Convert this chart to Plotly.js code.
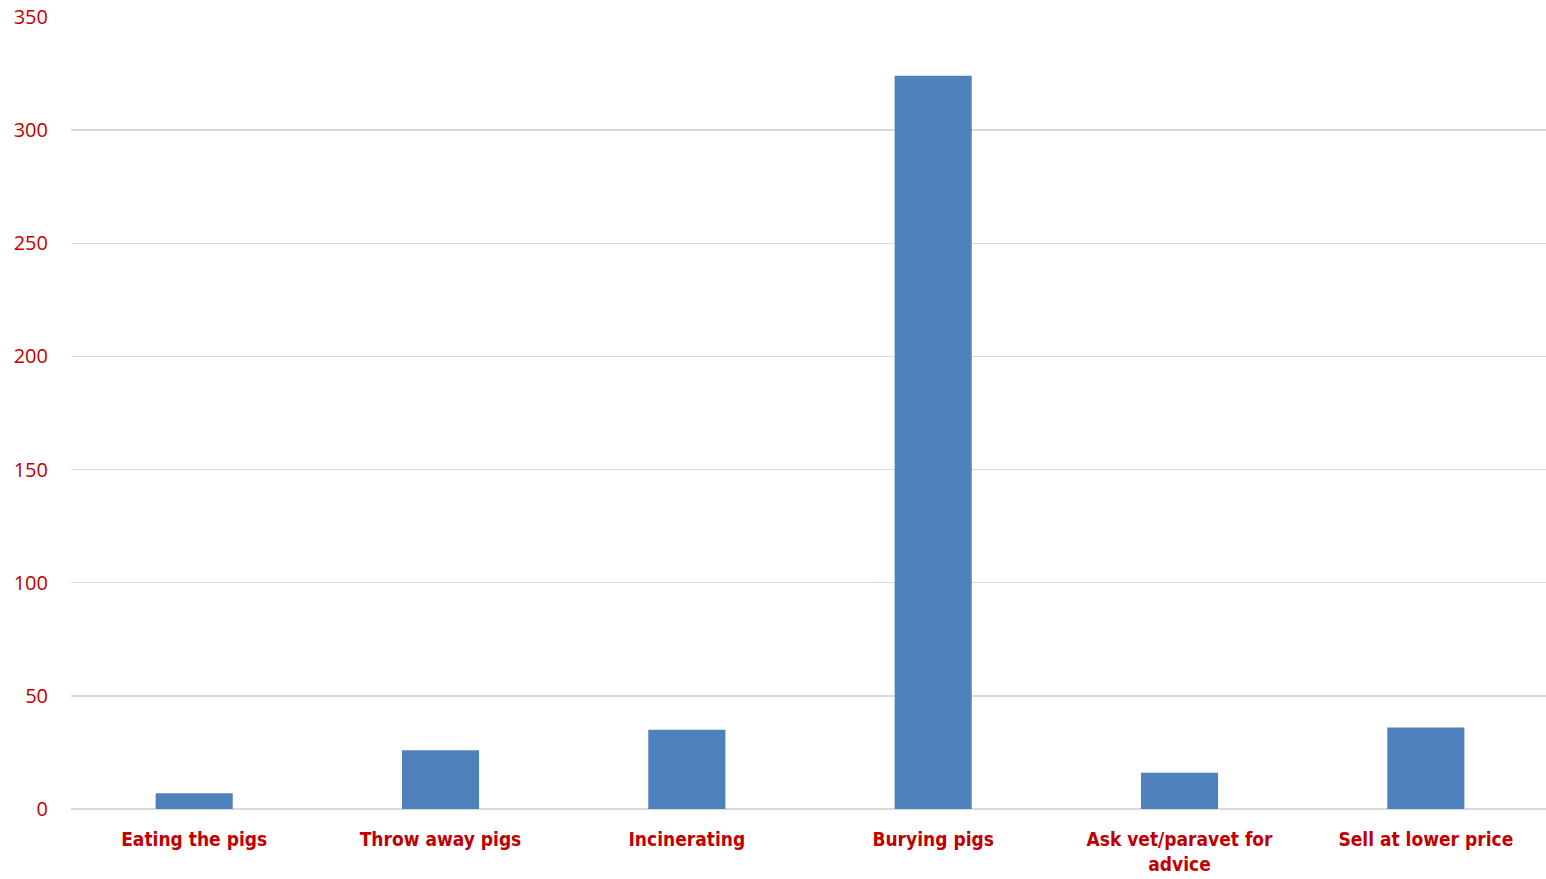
<!DOCTYPE html>
<html>
<head>
<meta charset="utf-8">
<script src="https://cdn.plot.ly/plotly-3.0.1.min.js"></script>
<style>
  html, body { margin: 0; padding: 0; background: #ffffff; overflow: hidden; }
  #chart { width: 1549px; height: 879px; }
</style>
</head>
<body>
<div id="chart"></div>
<script>
// Responses to dead pigs: number of respondents per practice
const categories = [
  "Eating the pigs",
  "Throw away pigs",
  "Incinerating",
  "Burying pigs",
  "Ask vet/paravet for<br>advice",
  "Sell at lower price"
];
const counts = [7, 26, 35, 324, 16, 36];
const yTickValues = [0, 50, 100, 150, 200, 250, 300, 350];

const labelRed = "#C00000";
const barBlue = "#4F81BD";
const gridGrey = "#D9D9D9";
const narrowFont = "'DejaVu Sans Condensed', 'Noto Sans', sans-serif";

const trace = {
  type: "bar",
  x: categories,
  y: counts,
  marker: { color: barBlue, line: { width: 0 } },
  hoverinfo: "x+y"
};

const layout = {
  width: 1549,
  height: 879,
  margin: { l: 71, r: 0, t: 17, b: 70 },
  paper_bgcolor: "#ffffff",
  plot_bgcolor: "#ffffff",
  showlegend: false,
  bargap: 0.687,
  xaxis: {
    type: "category",
    showgrid: false,
    zeroline: false,
    showline: false,
    ticks: "",
    ticklabelstandoff: 17,
    tickfont: { family: narrowFont, size: 19, color: labelRed, weight: "bold", lineheight: 1.5 }
  },
  yaxis: {
    range: [0, 350],
    tickvals: yTickValues,
    ticktext: yTickValues.map(String),
    showgrid: true,
    gridcolor: gridGrey,
    gridwidth: 1.5,
    zeroline: true,
    zerolinecolor: gridGrey,
    zerolinewidth: 1.5,
    showline: false,
    ticks: "",
    ticklabelstandoff: 22,
    tickfont: { family: "'Open Sans', 'Noto Sans', sans-serif", size: 20, color: labelRed }
  }
};

Plotly.newPlot("chart", [trace], layout, { displayModeBar: false, staticPlot: true });
</script>
</body>
</html>
